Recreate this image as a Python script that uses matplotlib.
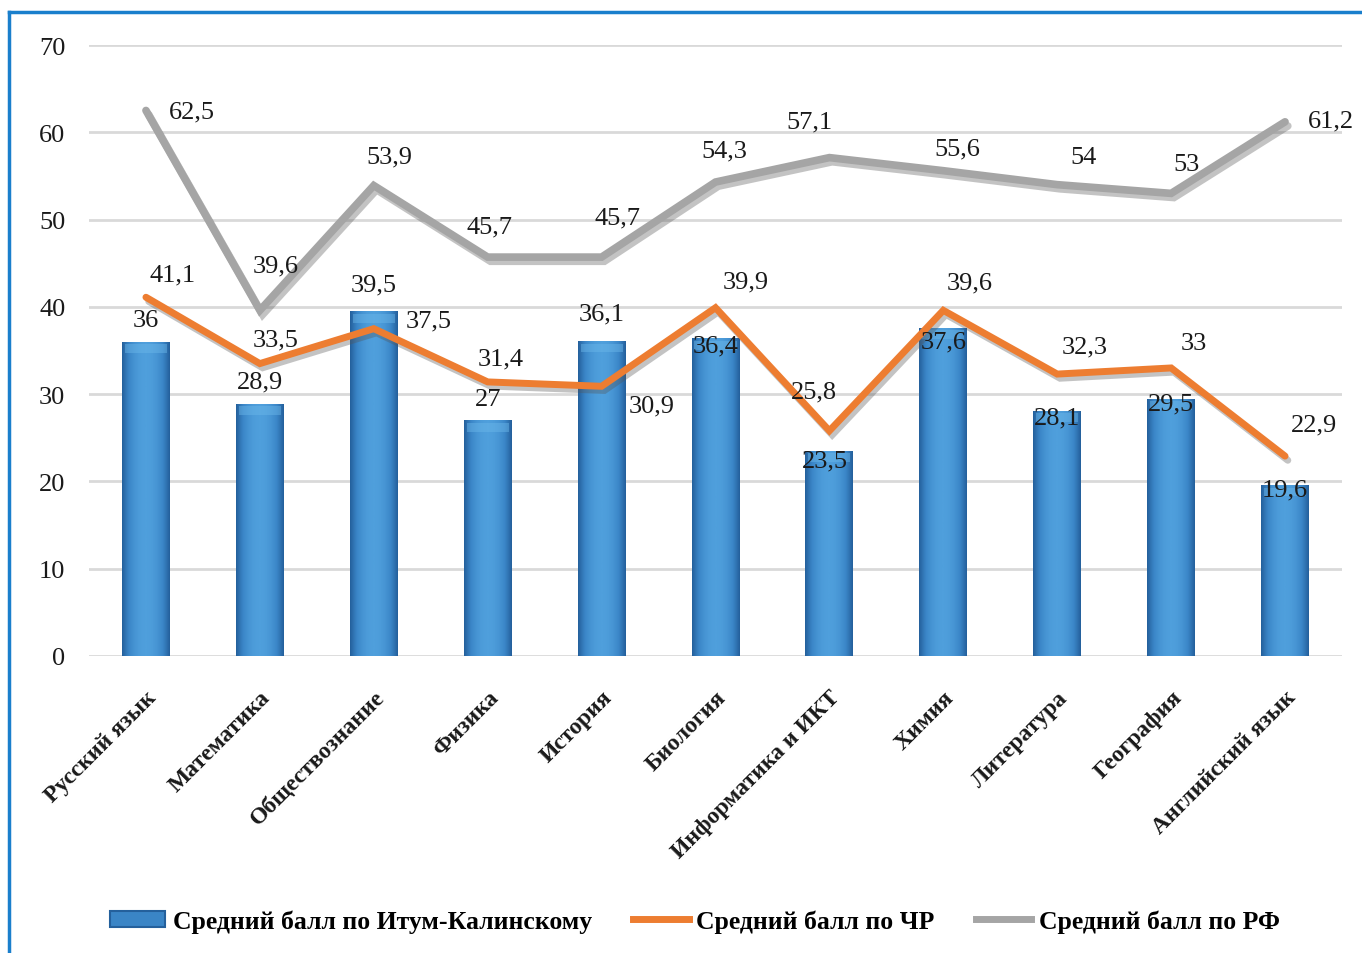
import numpy as np
import matplotlib
matplotlib.use("Agg")
import matplotlib.pyplot as plt
from matplotlib import patheffects as pe
from matplotlib import font_manager as fm
from matplotlib.patches import Rectangle
from matplotlib.lines import Line2D
from matplotlib.colors import LinearSegmentedColormap

categories = ["Русский язык", "Математика", "Обществознание", "Физика", "История",
              "Биология", "Информатика и ИКТ", "Химия", "Литература", "География",
              "Английский язык"]
itum = [36, 28.9, 39.5, 27, 36.1, 36.4, 23.5, 37.6, 28.1, 29.5, 19.6]
chr_ = [41.1, 33.5, 37.5, 31.4, 30.9, 39.9, 25.8, 39.6, 32.3, 33, 22.9]
rf = [62.5, 39.6, 53.9, 45.7, 45.7, 54.3, 57.1, 55.6, 54, 53, 61.2]
yticks = [0, 10, 20, 30, 40, 50, 60, 70]
series_names = ["Средний балл по Итум-Калинскому", "Средний балл по ЧР", "Средний балл по РФ"]

def fmt(v):
    return ("%g" % v).replace(".", ",")

# label offsets (pixels) relative to the data point
off_itum = [(0, 22), (0, 22), (0, 27), (0, 21), (0, 27), (0, -7), (-5, -10), (0, -14), (0, -7), (0, -5), (0, -5)]
off_chr = [(27, 23), (16, 24), (55, 8), (13, 23), (50, -19), (30, 26), (-15, 39), (26, 28), (27, 28), (23, 25), (29, 32)]
off_rf = [(46, -1), (16, 45), (16, 29), (2, 31), (16, 40), (9, 32), (-20, 36), (14, 22), (26, 28), (15, 29), (46, 1)]

names = {f.name for f in fm.fontManager.ttflist}
pref = [n for n in ['Liberation Serif', 'Times New Roman', 'Tinos', 'Noto Serif', 'DejaVu Serif'] if n in names]
plt.rcParams['font.family'] = pref + ['DejaVu Sans']

fig = plt.figure(figsize=(13.62, 9.54), dpi=100)
ax = fig.add_axes([89/1362, 1 - 657/954, (1342-89)/1362, (657-46)/954])

x = np.arange(len(categories))

ax.set_yticks(yticks)
ax.yaxis.grid(True, color='#d9d9d9', linewidth=2, zorder=0)
ax.set_axisbelow(True)
for s in ax.spines.values():
    s.set_visible(False)
ax.tick_params(axis='y', length=0, pad=17, labelsize=19, labelcolor='#1a1a1a')

# gradient bars
bw = 0.42
grad = np.linspace(-1, 1, 64)
prof = 1 - np.abs(grad) ** 2
cmap = LinearSegmentedColormap.from_list("b", ["#24609c", "#3b86c8", "#4f9fdc"])
bars = ax.bar(x, itum, width=bw, color='#3a85c6', zorder=2)
for b in bars:
    x0, y0 = b.get_x(), b.get_y()
    w, h = b.get_width(), b.get_height()
    im = ax.imshow(prof[np.newaxis, :], cmap=cmap, aspect='auto',
                   extent=(x0, x0 + w, y0, y0 + h), zorder=2.1, interpolation='bilinear')
    im.set_clip_path(b)
    ax.add_patch(Rectangle((x0 + w*0.06, y0 + h - 1.3), w*0.88, 1.0, color='#6cb8ea',
                           zorder=2.2, alpha=0.45, lw=0))
ax.set_xlim(-0.5, len(categories) - 0.5)
ax.set_ylim(0, 70)

shadow = [pe.SimpleLineShadow(offset=(2, -3), shadow_color='#555555', alpha=0.35), pe.Normal()]
ax.plot(x, rf, color='#a5a5a5', linewidth=5.5, solid_joinstyle='miter', solid_capstyle='round',
        zorder=3, path_effects=shadow)
ax.plot(x, chr_, color='#ed7d31', linewidth=5, solid_joinstyle='miter', solid_capstyle='round',
        zorder=4, path_effects=shadow)

def labels(vals, offs):
    for xi, v, (dx, dy) in zip(x, vals, offs):
        ax.annotate(fmt(v), (xi, v), xytext=(dx, dy), textcoords='offset pixels',
                    ha='center', va='center', fontsize=19, color='#1a1a1a', zorder=6)

labels(itum, off_itum)
labels(chr_, off_chr)
labels(rf, off_rf)

ax.set_xticks(x)
ax.set_xticklabels(categories, rotation=45, ha='right', rotation_mode='anchor',
                   fontsize=17, fontweight='bold', color='#1a1a1a')
ax.tick_params(axis='x', length=0, pad=22)

handles = [Rectangle((0, 0), 1, 1, facecolor='#3a85c6', edgecolor='#24609c', lw=1.5),
           Line2D([0], [0], color='#ed7d31', lw=5),
           Line2D([0], [0], color='#a5a5a5', lw=5)]
fig.legend(handles, series_names, loc='center', bbox_to_anchor=(695/1362, 1 - 922/954),
           ncol=3, frameon=False, prop={'size': 18.5, 'weight': 'bold'},
           handlelength=2.15, handleheight=0.6, handletextpad=0.3, columnspacing=1.6)

fig.add_artist(Line2D([9/1362, 9/1362], [0, 1 - 13/954], color='#1a7fcc', lw=2.5, transform=fig.transFigure))
fig.add_artist(Line2D([9/1362, 1], [1 - 13/954, 1 - 13/954], color='#1a7fcc', lw=2.5, transform=fig.transFigure))

fig.savefig("out.png", dpi=100)
